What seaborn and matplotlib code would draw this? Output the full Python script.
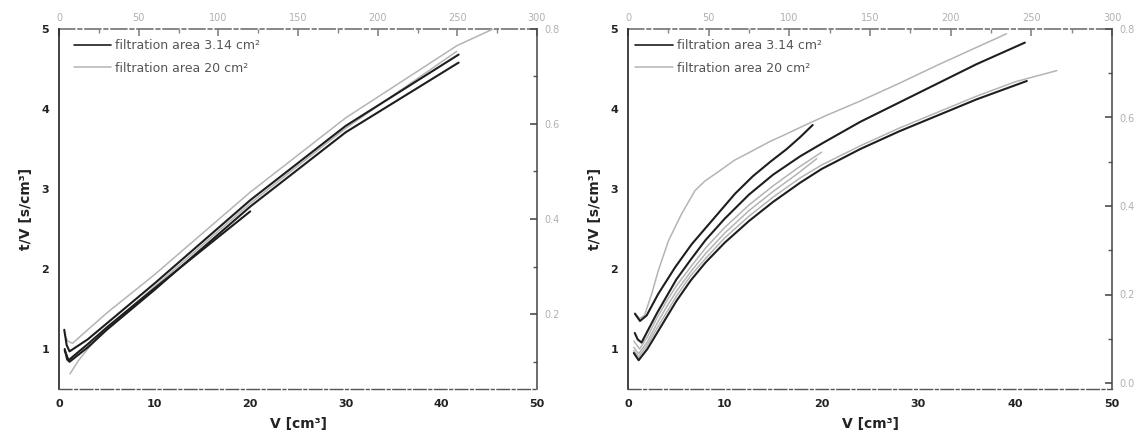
import matplotlib
matplotlib.use("Agg")
import matplotlib.pyplot as plt
from matplotlib.lines import Line2D
from matplotlib.ticker import MultipleLocator, FormatStrFormatter
import pandas as pd
import seaborn as sns

sns.set_theme(style="white")
plt.rcParams['font.family'] = ['DejaVu Sans']

AREA_SMALL = "filtration area 3.14 cm²"
AREA_LARGE = "filtration area 20 cm²"

# ---- left panel: t/V versus V, nearly linear runs ----
left_small_1_v = [0.55, 0.8, 1.1, 3, 5, 10, 20, 30, 41.8]
left_small_1_t = [1.24, 1.05, 0.97, 1.12, 1.32, 1.82, 2.86, 3.79, 4.68]
left_small_2_v = [0.6, 0.85, 1.1, 3, 5, 10, 20, 30, 41.8]
left_small_2_t = [1.0, 0.87, 0.84, 1.02, 1.24, 1.74, 2.78, 3.71, 4.58]
left_small_3_v = [0.6, 1.0, 3, 5, 10, 20]
left_small_3_t = [0.98, 0.86, 1.06, 1.27, 1.76, 2.72]
left_large_1_v = [0.6, 0.9, 1.4, 3, 5, 10, 20, 30, 41.6, 45.4]
left_large_1_t = [1.18, 1.10, 1.07, 1.24, 1.45, 1.93, 2.96, 3.89, 4.79, 5.0]
left_large_2_v = [1.15, 2, 3, 5, 10, 20, 30, 41.6]
left_large_2_t = [0.69, 0.85, 1.0, 1.26, 1.78, 2.82, 3.76, 4.72]

# ---- right panel: t/V versus V, curved runs ----
right_small_1_v = [0.72, 1.24, 1.93, 3.13, 4.86, 6.58, 8.64, 11.05, 12.9, 14.7,
                   16.4, 17.8, 19.08]
right_small_1_t = [1.44, 1.35, 1.42, 1.69, 2.02, 2.31, 2.60, 2.94, 3.16, 3.34,
                   3.50, 3.65, 3.80]
right_small_2_v = [0.7, 1.0, 1.4, 2.0, 3.0, 4.0, 5.0, 6.5, 8.0, 10, 12.5, 15,
                   17.8, 20.2, 24, 28, 32, 36, 41]
right_small_2_t = [1.20, 1.12, 1.08, 1.22, 1.45, 1.66, 1.87, 2.12, 2.36, 2.63,
                   2.93, 3.18, 3.41, 3.58, 3.84, 4.08, 4.32, 4.56, 4.83]
right_small_3_v = [0.6, 1.1, 2.0, 3.0, 4.0, 5.0, 6.5, 8.0, 10, 12.5, 15, 17.8,
                   20, 24, 28, 32, 36, 41.2]
right_small_3_t = [0.95, 0.86, 1.00, 1.20, 1.40, 1.60, 1.86, 2.08, 2.33, 2.60,
                   2.84, 3.08, 3.25, 3.50, 3.72, 3.92, 4.12, 4.35]
right_large_1_v = [0.7, 1.2, 1.7, 2.45, 3.13, 4.17, 5.54, 6.92, 7.95, 9.5, 11,
                   12.9, 14.6, 16.4, 18.5, 20.5, 24, 28, 32, 36, 39.1]
right_large_1_t = [1.45, 1.38, 1.42, 1.69, 1.98, 2.35, 2.69, 2.98, 3.10, 3.23,
                   3.36, 3.48, 3.59, 3.69, 3.81, 3.92, 4.10, 4.32, 4.55, 4.77,
                   4.94]
right_large_2_v = [0.6, 1.1, 2.0, 3.0, 4.0, 5.0, 6.5, 8.0, 10, 12.5, 15, 17.8,
                   20, 24, 28, 32, 36, 40, 44.3]
right_large_2_t = [0.98, 0.90, 1.05, 1.26, 1.46, 1.66, 1.92, 2.13, 2.39, 2.66,
                   2.90, 3.14, 3.30, 3.54, 3.76, 3.96, 4.16, 4.34, 4.48]
right_large_3_v = [0.6, 1.2, 2.0, 3.0, 4.0, 5.0, 6.5, 8.0, 10, 12.5, 15, 17.5, 20]
right_large_3_t = [1.10, 1.00, 1.15, 1.39, 1.60, 1.79, 2.03, 2.26, 2.52, 2.80,
                   3.04, 3.26, 3.46]
right_large_4_v = [0.6, 1.1, 2.0, 3.0, 4.0, 5.0, 6.5, 8.0, 10, 12.5, 15, 17.5,
                   19.5]
right_large_4_t = [1.02, 0.94, 1.09, 1.32, 1.53, 1.72, 1.97, 2.19, 2.45, 2.73,
                   2.97, 3.19, 3.38]

x_ticks = [0, 10, 20, 30, 40, 50]
y_ticks = [1, 2, 3, 4, 5]
top_ticks = [0, 50, 100, 150, 200, 250, 300]


def runs_frame(runs):
    rows = []
    for run_id, (area, vs, ts) in enumerate(runs):
        for v, t in zip(vs, ts):
            rows.append({"V": v, "tV": t, "area": area, "run": run_id})
    return pd.DataFrame(rows)


left_df = runs_frame([
    (AREA_LARGE, left_large_1_v, left_large_1_t),
    (AREA_LARGE, left_large_2_v, left_large_2_t),
    (AREA_SMALL, left_small_1_v, left_small_1_t),
    (AREA_SMALL, left_small_2_v, left_small_2_t),
    (AREA_SMALL, left_small_3_v, left_small_3_t),
])
right_df = runs_frame([
    (AREA_LARGE, right_large_1_v, right_large_1_t),
    (AREA_LARGE, right_large_2_v, right_large_2_t),
    (AREA_LARGE, right_large_3_v, right_large_3_t),
    (AREA_LARGE, right_large_4_v, right_large_4_t),
    (AREA_SMALL, right_small_1_v, right_small_1_t),
    (AREA_SMALL, right_small_2_v, right_small_2_t),
    (AREA_SMALL, right_small_3_v, right_small_3_t),
])

DARK = "#1e1e1e"
LIGHT = "#b4b4b4"
palette = {AREA_SMALL: DARK, AREA_LARGE: LIGHT}
widths = {AREA_SMALL: 1.5, AREA_LARGE: 1.1}

fig = plt.figure(figsize=(11.46, 4.48), dpi=100)
ax_l = fig.add_axes([59 / 1146, 59 / 448, 478 / 1146, 360 / 448])
ax_r = fig.add_axes([628 / 1146, 59 / 448, 484 / 1146, 360 / 448])


def draw_panel(ax, df, right_map, right_inv, right_ticks, legend_x):
    for area in [AREA_LARGE, AREA_SMALL]:
        sub = df[df["area"] == area]
        sns.lineplot(data=sub, x="V", y="tV", units="run", estimator=None,
                     sort=False, color=palette[area], lw=widths[area],
                     legend=False, ax=ax)
    ax.set_xlim(0, 50)
    ax.set_ylim(0.5, 5)
    ax.set_xticks(x_ticks)
    ax.set_yticks(y_ticks)
    ax.xaxis.set_minor_locator(MultipleLocator(5))
    ax.yaxis.set_minor_locator(MultipleLocator(0.5))
    ax.tick_params(which="both", direction="in", colors="#333333",
                   labelsize=8, labelcolor="#222222")
    ax.tick_params(which="major", length=5, width=0.9, pad=7)
    ax.tick_params(which="minor", length=3, width=0.8)
    for lab in ax.get_xticklabels() + ax.get_yticklabels():
        lab.set_fontweight("bold")
    ax.set_xlabel("V [cm³]", fontsize=10, fontweight="bold", color="#222222",
                  labelpad=6)
    ax.set_ylabel("t/V [s/cm³]", fontsize=10, fontweight="bold", color="#222222",
                  labelpad=6)

    ax.spines["left"].set_color("#222222")
    ax.spines["left"].set_linewidth(1.2)
    ax.spines["bottom"].set_color("#555555")
    ax.spines["bottom"].set_linewidth(1.0)
    ax.spines["bottom"].set_linestyle((0, (9, 2, 2, 2)))
    ax.spines["top"].set_visible(False)
    ax.spines["right"].set_visible(False)

    top = ax.secondary_xaxis("top", functions=(lambda v: v * 6, lambda s: s / 6))
    top.set_xticks(top_ticks)
    top.xaxis.set_minor_locator(MultipleLocator(25))
    top.tick_params(which="both", direction="in", colors="#888888",
                    labelsize=7, labelcolor="#b0b0b0")
    top.tick_params(which="major", length=5, pad=4)
    top.tick_params(which="minor", length=3)
    top.spines["top"].set_color("#777777")
    top.spines["top"].set_linestyle((0, (9, 2, 2, 2)))

    side = ax.secondary_yaxis("right", functions=(right_map, right_inv))
    side.set_yticks(right_ticks)
    side.yaxis.set_minor_locator(MultipleLocator(0.1))
    side.yaxis.set_major_formatter(FormatStrFormatter("%.1f"))
    side.tick_params(which="both", direction="in", colors="#555555",
                     labelsize=7, labelcolor="#b0b0b0")
    side.tick_params(which="major", length=5, pad=5)
    side.tick_params(which="minor", length=3)
    side.spines["right"].set_color("#444444")
    side.spines["right"].set_linewidth(1.1)

    handles = [Line2D([], [], color=DARK, lw=1.2),
               Line2D([], [], color=LIGHT, lw=1.1)]
    ax.legend(handles, [AREA_SMALL, AREA_LARGE], loc="upper left",
              bbox_to_anchor=(legend_x, 0.985), frameon=False, fontsize=9,
              handlelength=3.0, handletextpad=0.3, labelspacing=0.75,
              borderaxespad=0.0, labelcolor="#555555")


draw_panel(ax_l, left_df,
           lambda y: 0.2 + (y - 1.4375) * 0.6 / 3.5625,
           lambda s: 1.4375 + (s - 0.2) * 3.5625 / 0.6,
           [0.2, 0.4, 0.6, 0.8], 0.02)
draw_panel(ax_r, right_df,
           lambda y: (y - 0.575) * 0.8 / 4.425,
           lambda s: 0.575 + s * 4.425 / 0.8,
           [0.0, 0.2, 0.4, 0.6, 0.8], 0.005)

fig.savefig("out.png", dpi=100, facecolor="white")
